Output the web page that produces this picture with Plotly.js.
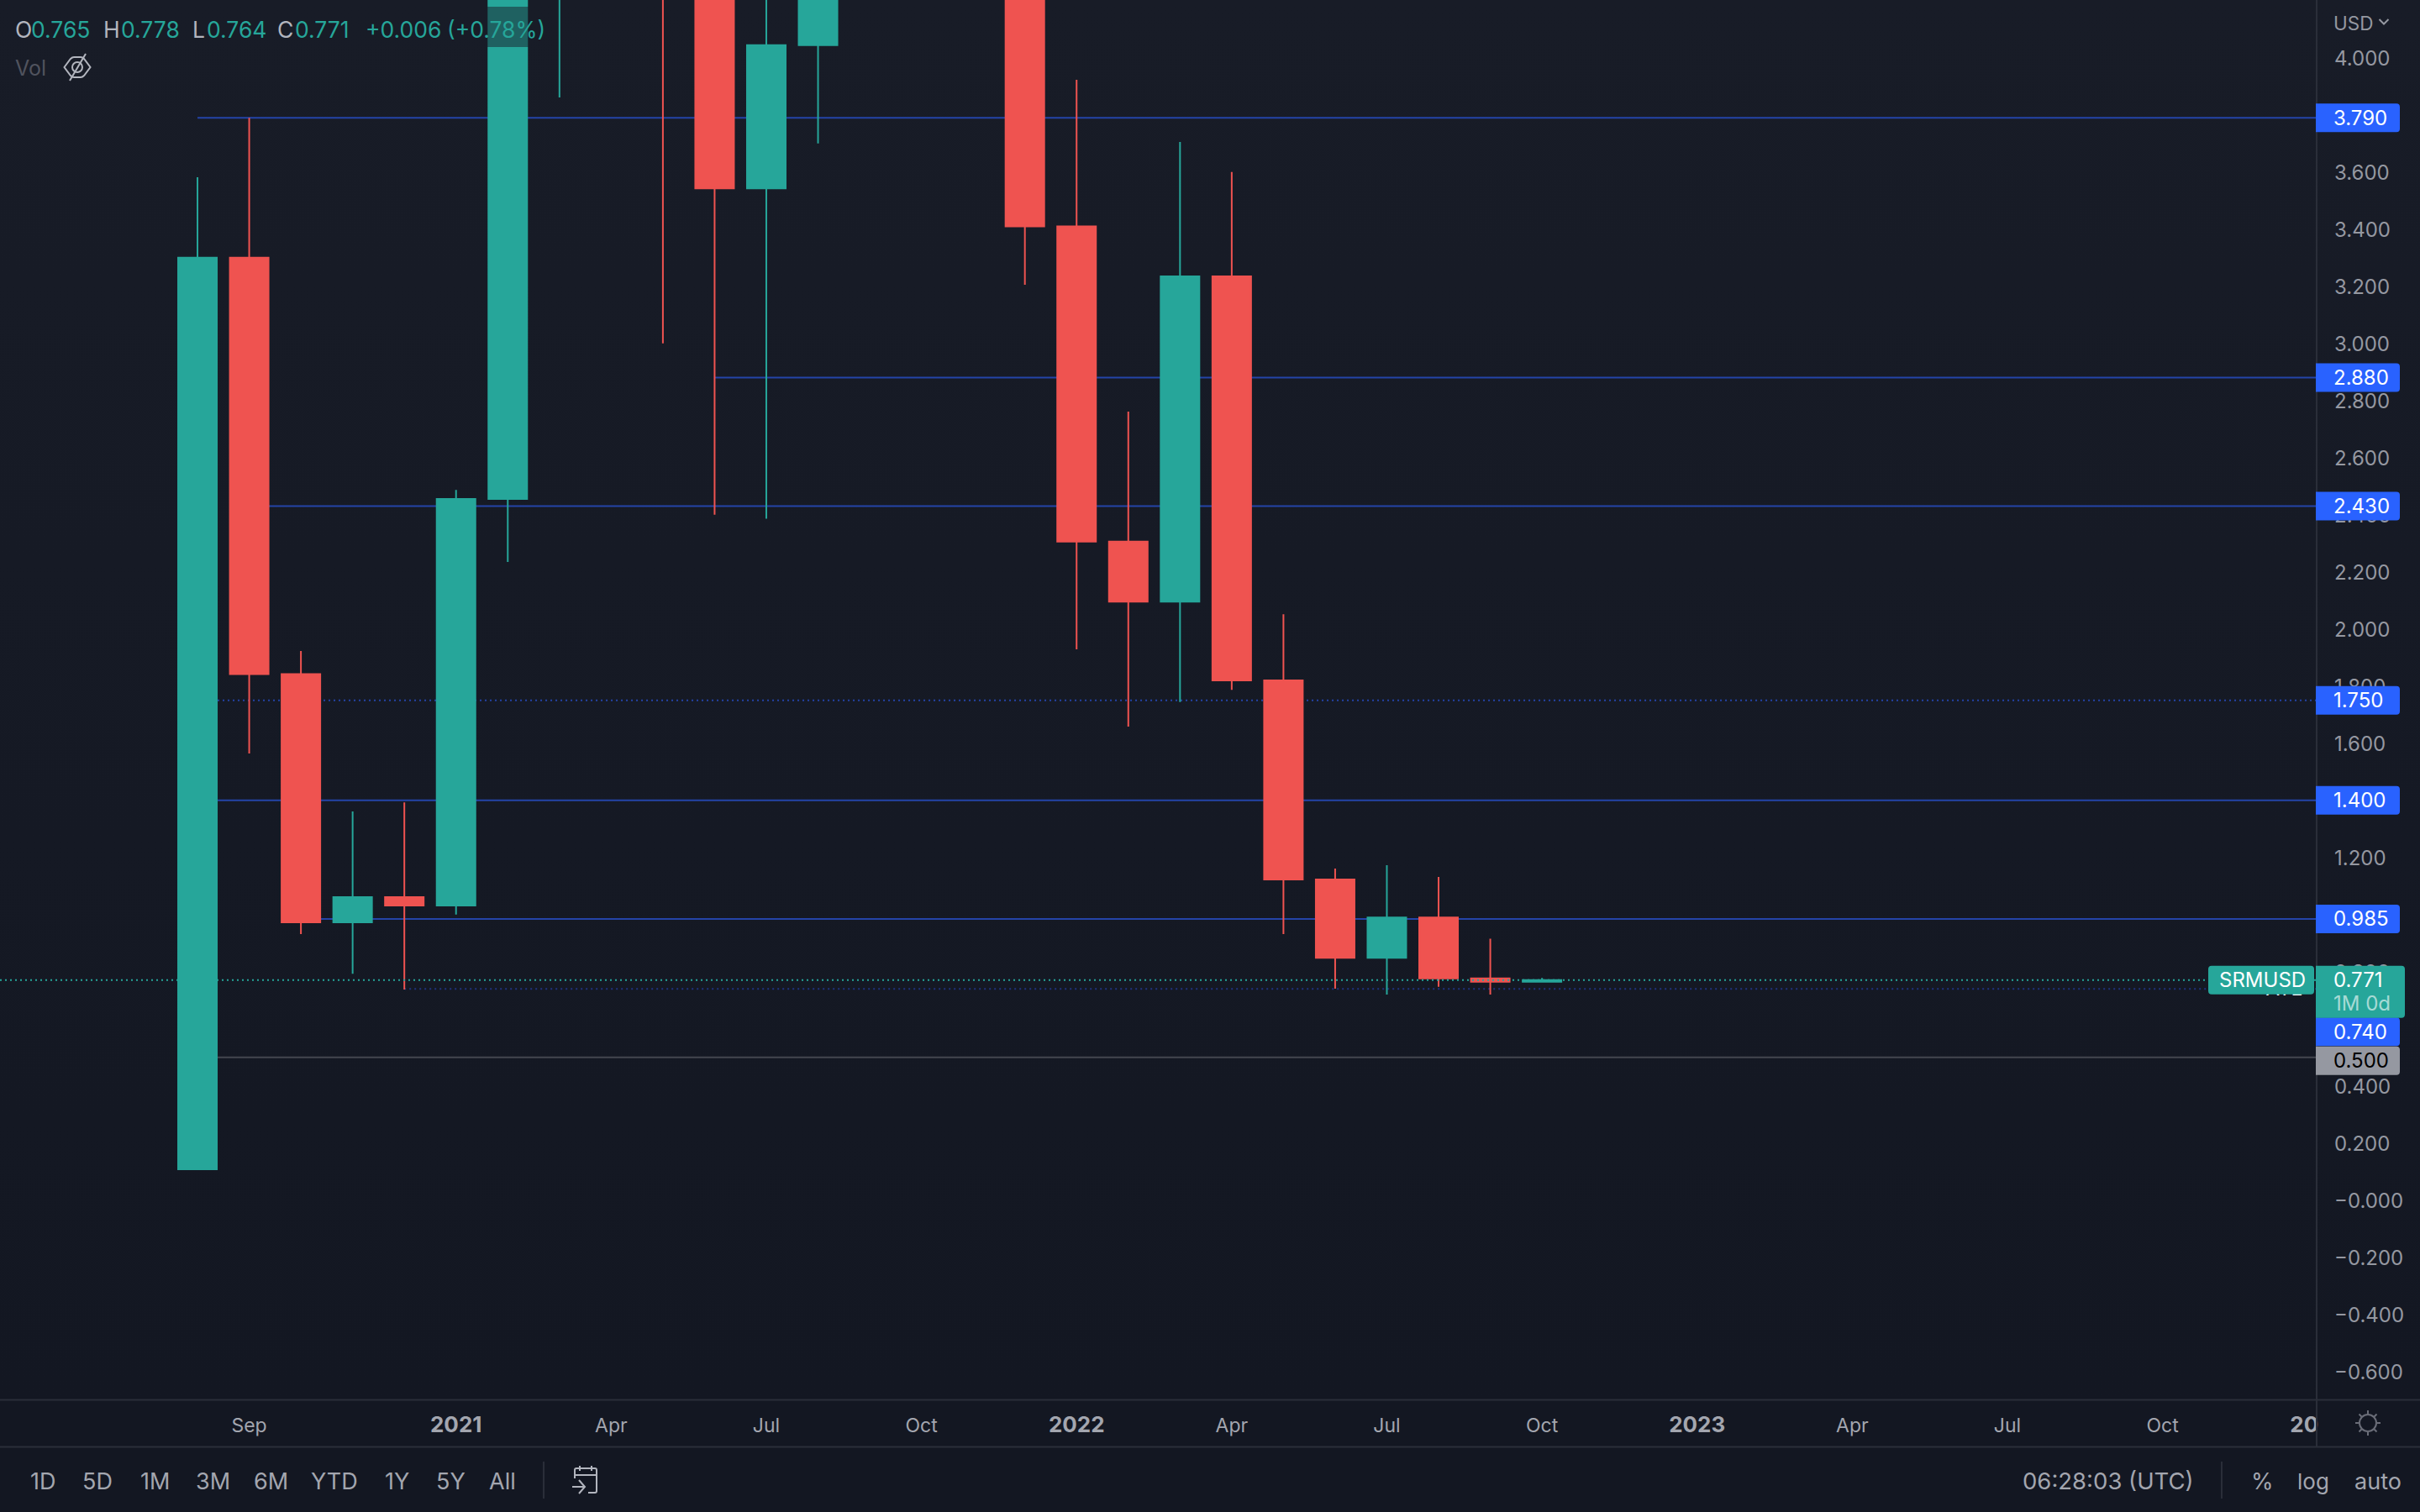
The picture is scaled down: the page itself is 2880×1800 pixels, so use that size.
<!DOCTYPE html>
<html>
<head>
<meta charset="utf-8">
<script src="https://cdn.plot.ly/plotly-3.0.1.min.js"></script>
<style>
html,body{margin:0;padding:0;width:2880px;height:1800px;overflow:hidden;
background:linear-gradient(#181c27 0,#131722 1666px,#131722 100%);}
#chart{width:2880px;height:1800px;}
</style>
</head>
<body>
<div id="chart"></div>
<script>
// monthly SRMUSD candles, Aug 2020 .. Oct 2022 (bar index 0..26)
const barIndex = [0,1,2,3,4,5,6,7,8,9,10,11,12,13,14,15,16,17,18,19,20,21,22,23,24,25,26];
const opens  = [0.108,3.30,1.842,0.973,1.061,1.032,2.455,5.4,6.9,9.1,6.2,3.543,4.044,7.5,7.0,8.2,8.0,3.41,2.306,2.096,3.235,1.82,1.123,0.849,0.99,0.777,0.765];
const highs  = [3.582,3.79,1.923,1.361,1.393,2.487,5.6,7.2,11.0,13.0,6.7,4.9,8.4,10.5,9.0,12.0,8.6,3.923,2.761,3.705,3.60,2.052,1.161,1.173,1.132,0.916,0.778];
const lows   = [0.108,1.564,0.932,0.793,0.738,1.0,2.235,3.861,6.3,3.0,2.40,2.386,3.70,5.6,6.0,7.0,3.205,1.929,1.658,1.744,1.787,0.932,0.741,0.72,0.747,0.72,0.764];
const closes = [3.30,1.842,0.973,1.061,1.032,2.455,5.4,6.9,9.1,6.2,3.543,4.044,7.5,7.0,8.2,8.0,3.41,2.306,2.096,3.235,1.82,1.123,0.849,0.99,0.777,0.765,0.771];

const xTickValues = [1,5,8,11,14,17,20,23,26,29,32,35,38,40.74];
const yr = t => '<span style="font-size:26px"><b>'+t+'</b></span>';
const xTickLabels = ['Sep',yr('2021'),'Apr','Jul','Oct',yr('2022'),'Apr','Jul','Oct',yr('2023'),'Apr','Jul','Oct',yr('20')];

const yTickValues = [4,3.8,3.6,3.4,3.2,3,2.8,2.6,2.4,2.2,2,1.8,1.6,1.4,1.2,1,0.8,0.6,0.4,0.2,0,-0.2,-0.4,-0.6];
const yTickLabels = ['4.000','','3.600','3.400','3.200','3.000','2.800','2.600','2.400','2.200','2.000','1.800','1.600','','1.200','','0.800','0.600','0.400','0.200','−0.000','−0.200','−0.400','−0.600'];

const levelValues = [3.79,2.88,2.43,1.75,1.40,0.985,0.74,0.50];
const levelStarts = [0,10,1,0,0,2,4,0];
const levelKinds  = ['solid','solid','solid','dot','solid','solid','dot','gray'];

const currentPrice = 0.771;

const GREEN='#26a69a', RED='#ef5350', BLUE='#2962ff', LINE='#2a2e39', TXT='#a3a6af', TICK='#9598a1';
const FONT='Inter, "Noto Sans", sans-serif';
const PW=2757, PH=1666;
const px=v=>v/PW, py=v=>(PH-v)/PH;
const xRange=[-3.819,40.98], yRange=[-0.6976,4.2024];

const data=[{
  type:'candlestick', x:barIndex, open:opens, high:highs, low:lows, close:closes,
  whiskerwidth:0, hoverinfo:'skip', showlegend:false,
  increasing:{line:{color:GREEN,width:2},fillcolor:GREEN},
  decreasing:{line:{color:RED,width:2},fillcolor:RED}
},{
  type:'scatter', mode:'text', x:[40.35], y:[0.735], text:['ATL'], textposition:'middle center',
  textfont:{family:FONT,size:24,color:'#ffffff'}, hoverinfo:'skip', showlegend:false, cliponaxis:false
}];

const shapes=[];
function rule(x0,y0,x1,y1,c){shapes.push({type:'line',xref:'paper',yref:'paper',x0,y0,x1,y1,layer:'above',line:{color:c||LINE,width:2}});}
levelValues.forEach((v,i)=>{
  const k=levelKinds[i];
  shapes.push({type:'line',xref:'x',yref:'y',x0:levelStarts[i],x1:xRange[1],y0:v,y1:v,layer:'below',
    line:{width:2,color:k==='gray'?'#43464f':(v===0.74?'#1f3380':'#2444a8'),dash:k==='dot'?'2px,4px':'solid'}});
});
shapes.push({type:'line',xref:'x',yref:'y',x0:xRange[0],x1:xRange[1],y0:currentPrice,y1:currentPrice,layer:'above',
  line:{width:2,color:GREEN,dash:'2px,4px'}});
// panes
rule(1,py(0),1,py(1722));
rule(0,py(1666.5),px(2880),py(1666.5));
rule(0,py(1722.5),px(2880),py(1722.5));
rule(px(647),py(1740),px(647),py(1784));
rule(px(2644),py(1740),px(2644),py(1784));
// legend backdrop
shapes.push({type:'rect',xref:'paper',yref:'paper',x0:px(8),x1:px(645),y0:py(8),y1:py(56),layer:'above',
  fillcolor:'rgba(24,28,39,0.5)',line:{width:0}});

function tag(value,left,right,top,bottom,fill,rl){
  const r=4, rL=rl?r:0;
  const p='M'+(left+rL)+','+top+' L'+(right-r)+','+top+' Q'+right+','+top+' '+right+','+(top-r)+
    ' L'+right+','+(bottom+r)+' Q'+right+','+bottom+' '+(right-r)+','+bottom+' L'+(left+rL)+','+bottom+
    (rl?' Q'+left+','+bottom+' '+left+','+(bottom+r)+' L'+left+','+(top-r)+' Q'+left+','+top+' '+(left+r)+','+top:'')+' Z';
  shapes.push({type:'path',xref:'paper',yref:'y',xsizemode:'pixel',ysizemode:'pixel',xanchor:1,yanchor:value,
    path:p,fillcolor:fill,line:{width:0},layer:'above'});
}
const annotations=[];
function ann(text,x,y,opt){
  annotations.push(Object.assign({text,xref:'paper',yref:'paper',x:px(x),y:py(y),showarrow:false,
    xanchor:'left',yanchor:'middle',borderpad:0,borderwidth:0,
    font:{family:FONT,size:24,color:TXT}},opt||{}));
}
function priceText(text,value,shift,color,size){
  annotations.push({text,xref:'paper',yref:'y',x:1,xshift:20,y:value,yshift:shift,showarrow:false,xanchor:'left',yanchor:'middle',
    borderpad:0,borderwidth:0,font:{family:FONT,size:size||24,color}});
}
// price tags
[[3.79,0],[2.88,0],[2.43,0],[1.75,0],[1.40,0],[0.985,0]].forEach(([v,o])=>{
  tag(v,-1,99,17+o,-17+o,BLUE,false);
  priceText(v.toFixed(3),v,o,'#ffffff');
});
tag(0.74,-1,99,-34,-68,BLUE,false); priceText('0.740',0.74,-51,'#ffffff');
tag(0.5,-1,99,13,-21,'#9598a1',false); priceText('0.500',0.5,-4,'#000000');
tag(currentPrice,-1,105,17,-45,GREEN,false);
priceText('0.771',currentPrice,0,'#ffffff');
priceText('1M 0d',currentPrice,-28,'rgba(255,255,255,0.6)');
tag(currentPrice,-129,-3,17,-17,GREEN,true);
annotations.push({text:'SRMUSD',xref:'paper',yref:'y',x:1,xshift:-65,y:currentPrice,showarrow:false,xanchor:'center',yanchor:'middle',
  borderpad:0,borderwidth:0,font:{family:FONT,size:24,color:'#ffffff'}});

// legend
[['O',18,'#b2b5be'],['0.765',37,GREEN],['H',123,'#b2b5be'],['0.778',144,GREEN],['L',229,'#b2b5be'],['0.764',246,GREEN],
 ['C',330,'#b2b5be'],['0.771',351,GREEN],['+0.006',435,GREEN],['(+0.78%)',532,GREEN]].forEach(([t,x,c])=>{
  ann(t,x,35,{font:{family:FONT,size:26.5,color:c}});
});
ann('Vol',18,81,{font:{family:FONT,size:25,color:'#50535e'}});
ann('USD',2777,27,{font:{family:FONT,size:22.5,color:TICK}});
// toolbar
[['1D',51],['5D',116],['1M',184],['3M',253],['6M',322],['YTD',398],['1Y',473],['5Y',536],['All',598]].forEach(([t,x])=>{
  ann(t,x,1763,{xanchor:'center',font:{family:FONT,size:27,color:TXT}});
});
ann('06:28:03 (UTC)',2407,1763,{font:{family:FONT,size:27.5,color:TXT}});
ann('%',2692,1763,{xanchor:'center',font:{family:FONT,size:27,color:TXT}});
ann('log',2753,1763,{xanchor:'center',font:{family:FONT,size:26,color:TXT}});
ann('auto',2830,1763,{xanchor:'center',font:{family:FONT,size:27,color:TXT}});

function svg(w,h,body){return 'data:image/svg+xml;utf8,'+encodeURIComponent(
  '<svg xmlns="http://www.w3.org/2000/svg" width="'+w+'" height="'+h+'" viewBox="0 0 '+w+' '+h+'">'+body+'</svg>');}
function icon(src,x,y,w,h){return {source:src,xref:'paper',yref:'paper',x:px(x),y:py(y),sizex:w/PW,sizey:h/PH,xanchor:'left',yanchor:'top',sizing:'stretch',layer:'above'};}
const S='fill="none" stroke="#b2b5be" stroke-width="2"';
const S2='fill="none" stroke="#9598a1" stroke-width="2"';
const images=[
  icon(svg(34,34,'<path d="M1.5 17 L9 7 Q11 5 13 5 H21 Q23 5 25 7 L32.5 17 L25 27 Q23 29 21 29 H13 Q11 29 9 27 Z" '+S+'/><circle cx="17" cy="17" r="6" '+S+'/><path d="M8 33 L27 1" '+S+'/>'),75,63,34,34),
  icon(svg(36,36,'<path d="M5 16 V6 Q5 4 7 4 H29 Q31 4 31 6 V31 Q31 33 29 33 H21 M5 12 H31 M11 1 V7 M25 1 V7 M2 26 H16 M10 18 L17 26 L10 34" '+S+'/>'),679,1744,36,36),
  icon(svg(14,10,'<path d="M1.5 2 L7 7.5 L12.5 2" '+S2+'/>'),2830,21,14,10),
  icon(svg(32,32,'<circle cx="16" cy="16" r="10" fill="none" stroke="#6a6d78" stroke-width="2"/><path d="M16 1 V5 M16 27 V31 M1 16 H5 M27 16 H31 M5.5 5.5 L8.5 8.5 M23.5 23.5 L26.5 26.5 M5.5 26.5 L8.5 23.5 M23.5 8.5 L26.5 5.5" fill="none" stroke="#6a6d78" stroke-width="2"/>'),2802,1678,32,32)
];

const layout={
  width:2880,height:1800,autosize:false,
  margin:{l:0,r:123,t:0,b:134,pad:0},
  paper_bgcolor:'rgba(0,0,0,0)',plot_bgcolor:'rgba(0,0,0,0)',
  showlegend:false,hovermode:false,dragmode:false,boxgap:0.2525,boxgroupgap:0,
  font:{family:FONT,color:TICK},
  xaxis:{type:'linear',range:xRange,rangeslider:{visible:false},showgrid:false,zeroline:false,showline:false,ticks:'',
    tickmode:'array',tickvals:xTickValues,ticktext:xTickLabels,tickangle:0,ticklabelstandoff:15,ticklabeloverflow:'allow',
    tickfont:{family:FONT,size:23,color:TXT},fixedrange:true},
  yaxis:{type:'linear',range:yRange,side:'right',showgrid:false,zeroline:false,showline:false,ticks:'',
    tickmode:'array',tickvals:yTickValues,ticktext:yTickLabels,ticklabelstandoff:20,ticklabelshift:1,ticklabeloverflow:'allow',
    tickfont:{family:FONT,size:24,color:TICK},fixedrange:true},
  shapes,annotations,images
};
Plotly.newPlot('chart',data,layout,{displayModeBar:false,staticPlot:true,responsive:false});
</script>
</body>
</html>
